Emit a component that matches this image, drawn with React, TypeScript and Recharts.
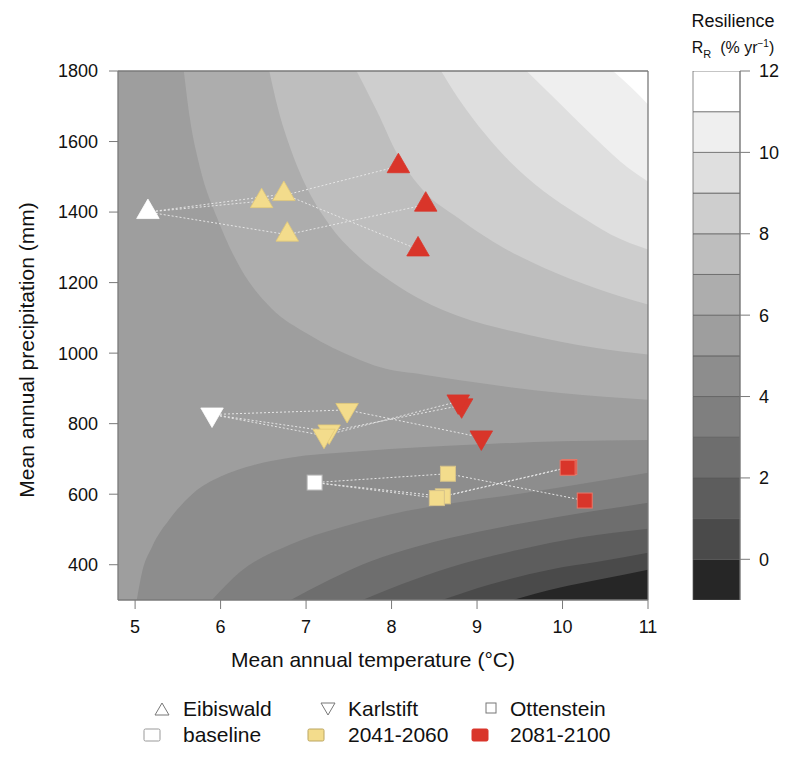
import React from 'react'
import {
  ComposedChart,
  Area,
  Line,
  Scatter,
  XAxis,
  YAxis,
  CartesianGrid,
  ReferenceLine,
  BarChart,
  Bar,
} from 'recharts'

type Pt = { T: number; P: number }

const xTicks = [5, 6, 7, 8, 9, 10, 11]
const yTicks = [400, 600, 800, 1000, 1200, 1400, 1600, 1800]

// resilience classes (lower bound of each 1 %/yr band) and their greys
const keyLevels = [-1, 0, 1, 2, 3, 4, 5, 6, 7, 8, 9, 10, 11]
const keyColors = [
  '#262626', '#4a4a4a', '#5d5d5d', '#6e6e6e', '#7f7f7f', '#8d8d8d', '#9e9e9e',
  '#adadad', '#bebebe', '#cecece', '#dfdfdf', '#efefef', '#ffffff',
]
const keyTicks = [0, 2, 4, 6, 8, 10, 12]

// contour lines: [temperature °C, precipitation mm]
const contour6 = [[5.57, 1800], [5.64, 1667], [5.76, 1525], [5.96, 1383], [6.23, 1242], [6.59, 1128], [7.03, 1053], [7.59, 985], [7.87, 960], [8.38, 939], [9.18, 910], [9.98, 887], [11, 868]]
const contour7 = [[6.57, 1800], [6.67, 1695], [6.83, 1572], [7.03, 1459], [7.27, 1365], [7.59, 1279], [7.99, 1204], [8.38, 1147], [8.78, 1105], [9.58, 1053], [10.38, 1015], [11, 996]]
const contour8 = [[7.59, 1800], [7.83, 1686], [8.07, 1563], [8.38, 1459], [8.78, 1383], [9.18, 1317], [9.78, 1242], [10.38, 1185], [11, 1138]]
const contour9 = [[8.58, 1800], [8.78, 1723], [9.1, 1620], [9.38, 1544], [9.78, 1459], [10.18, 1393], [10.57, 1336], [11, 1294]]
const contour10 = [[9.58, 1800], [9.98, 1705], [10.38, 1610], [10.77, 1525], [11, 1487]]
const contour11 = [[10.59, 1800], [10.81, 1752], [11, 1705]]

const contour5 = [[5.02, 300], [5.08, 377], [5.2, 452], [5.4, 528], [5.68, 603], [6.0, 650], [6.39, 683], [6.79, 703], [7.59, 721], [8.38, 734], [9.18, 743], [9.98, 750], [11, 754]]
const contour4 = [[5.9, 300], [6.23, 380], [6.81, 457], [7.39, 505], [7.97, 542], [8.67, 573], [9.5, 601], [10.32, 633], [11, 661]]
const contour3 = [[6.82, 300], [7.28, 358], [7.75, 409], [8.33, 454], [9.03, 494], [9.96, 536], [11, 576]]
const contour2 = [[7.66, 300], [8.1, 343], [8.68, 392], [9.5, 443], [10.2, 477], [11, 502]]
const contour1 = [[8.59, 300], [9.15, 344], [9.85, 386], [10.43, 409], [11, 434]]
const contour0 = [[9.42, 300], [9.96, 335], [10.43, 358], [11, 386]]

// sites: baseline, then the three climate models for 2041-2060 and 2081-2100
const eibiswaldBase = [[5.15, 1400]]
const eibiswaldMid = [[6.48, 1431], [6.74, 1451], [6.78, 1336]]
const eibiswaldLate = [[8.08, 1530], [8.31, 1294], [8.4, 1421]]

const karlstiftBase = [[5.9, 826]]
const karlstiftMid = [[7.48, 839], [7.27, 778], [7.21, 766]]
const karlstiftLate = [[9.05, 761], [8.82, 852], [8.78, 863]]

const ottensteinBase = [[7.1, 633]]
const ottensteinMid = [[8.66, 658], [8.6, 594], [8.53, 589]]
const ottensteinLate = [[10.26, 582], [10.08, 677], [10.06, 675]]

const sites = ['Eibiswald', 'Karlstift', 'Ottenstein']
const periods = ['baseline', '2041-2060', '2081-2100']

const toPts = (arr: number[][]): Pt[] => arr.map(([T, P]) => ({ T, P }))
const colorOf = (level: number) => keyColors[keyLevels.indexOf(level)]

const upper = [
  { level: 6, pts: contour6 },
  { level: 7, pts: contour7 },
  { level: 8, pts: contour8 },
  { level: 9, pts: contour9 },
  { level: 10, pts: contour10 },
  { level: 11, pts: contour11 },
]
const lower = [
  { level: 5, pts: contour5 },
  { level: 4, pts: contour4 },
  { level: 3, pts: contour3 },
  { level: 2, pts: contour2 },
  { level: 1, pts: contour1 },
  { level: 0, pts: contour0 },
]

const siteData = [
  { site: sites[0], base: eibiswaldBase, mid: eibiswaldMid, late: eibiswaldLate, mark: 'up' },
  { site: sites[1], base: karlstiftBase, mid: karlstiftMid, late: karlstiftLate, mark: 'down' },
  { site: sites[2], base: ottensteinBase, mid: ottensteinMid, late: ottensteinLate, mark: 'square' },
]

const periodStyle = [
  { fill: '#ffffff', stroke: '#ffffff', sqStroke: '#b5b5b5' },
  { fill: '#f3dc8c', stroke: '#e2c979', sqStroke: '#d6c38a' },
  { fill: '#d9352a', stroke: '#d9352a', sqStroke: '#e8786a' },
]

const FONT = '"Liberation Sans", Arial, Helvetica, sans-serif'
const AXIS_GREY = '#7a7a7a'

const makeShape = (mark: string, p: number) => (props: any) => {
  const { cx, cy } = props
  const st = periodStyle[p]
  if (cx == null || cy == null) return <g />
  if (mark === 'square') {
    const s = 15
    return <rect x={cx - s / 2} y={cy - s / 2} width={s} height={s} fill={st.fill} stroke={st.sqStroke} strokeWidth={1} />
  }
  const r = 13
  const dir = mark === 'up' ? 1 : -1
  const pts = [
    [cx, cy - dir * r],
    [cx + r * 0.866, cy + (dir * r) / 2],
    [cx - r * 0.866, cy + (dir * r) / 2],
  ]
  return <polygon points={pts.map((q) => q.join(',')).join(' ')} fill={st.fill} stroke={st.stroke} strokeWidth={0.8} />
}

const keyRow = [
  { name: 'key', ...Object.fromEntries(keyLevels.map((l) => [`b${l}`, l < 0 ? -1 : 1])) },
]

const LegendIcon = ({ kind }: { kind: string }) => {
  if (kind === 'up') return <svg width={16} height={14}><polygon points="8,1 15,13 1,13" fill="none" stroke="#777" strokeWidth={1} /></svg>
  if (kind === 'down') return <svg width={16} height={14}><polygon points="1,1 15,1 8,13" fill="none" stroke="#777" strokeWidth={1} /></svg>
  if (kind === 'small') return <svg width={12} height={12}><rect x={1} y={1} width={10} height={10} fill="none" stroke="#777" strokeWidth={1} /></svg>
  const st = kind === 'base' ? { f: '#fff', s: '#999' } : kind === 'mid' ? { f: '#f3dc8c', s: '#bba662' } : { f: '#d9352a', s: '#d9352a' }
  return <svg width={18} height={14}><rect x={1} y={1} width={16} height={12} rx={1.5} fill={st.f} stroke={st.s} strokeWidth={1} /></svg>
}

const legendItems = [
  { label: sites[0], kind: 'up', iconX: 154, textX: 183, y: 709 },
  { label: sites[1], kind: 'down', iconX: 320, textX: 348, y: 709 },
  { label: sites[2], kind: 'small', iconX: 485, textX: 510, y: 709 },
  { label: periods[0], kind: 'base', iconX: 143, textX: 183, y: 735 },
  { label: periods[1], kind: 'mid', iconX: 307, textX: 348, y: 735 },
  { label: periods[2], kind: 'late', iconX: 471, textX: 510, y: 735 },
]

export default function App() {
  return (
    <div style={{ position: 'absolute', left: 0, top: 0, width: 800, height: 760, background: '#fff', fontFamily: FONT, color: '#111' }}>
      <div style={{ position: 'absolute', left: 0, top: 0 }}>
        <ComposedChart width={660} height={700} margin={{ top: 71, right: 12, left: 0, bottom: 50 }}>
          <CartesianGrid horizontal={false} vertical={false} fill={colorOf(5)} fillOpacity={1} stroke="none" />
          <XAxis
            type="number"
            dataKey="T"
            domain={[4.8, 11]}
            ticks={xTicks}
            interval={0}
            allowDataOverflow
            height={50}
            axisLine={false}
            tickSize={9}
            tickMargin={11}
            tickLine={{ stroke: AXIS_GREY }}
            tick={{ fontSize: 18, fill: '#111' }}
          />
          <YAxis
            type="number"
            dataKey="P"
            domain={[300, 1800]}
            ticks={yTicks}
            interval={0}
            allowDataOverflow
            width={118}
            axisLine={false}
            tickSize={9}
            tickMargin={11}
            tickLine={{ stroke: AXIS_GREY }}
            tick={{ fontSize: 18, fill: '#111' }}
          />
          {upper.map((c) => (
            <Area
              key={`u${c.level}`}
              data={toPts(c.pts)}
              dataKey="P"
              type="monotone"
              baseValue={1800}
              stroke="none"
              fill={colorOf(c.level)}
              fillOpacity={1}
              dot={false}
              activeDot={false}
              isAnimationActive={false}
            />
          ))}
          {lower.map((c) => (
            <Area
              key={`l${c.level}`}
              data={toPts(c.pts)}
              dataKey="P"
              type="monotone"
              baseValue={300}
              stroke="none"
              fill={colorOf(c.level - 1)}
              fillOpacity={1}
              dot={false}
              activeDot={false}
              isAnimationActive={false}
            />
          ))}
          {siteData.flatMap((s) =>
            s.mid.map((m, i) => (
              <Line
                key={`${s.site}-path-${i}`}
                data={toPts([s.base[0], m, s.late[i]])}
                dataKey="P"
                type="linear"
                stroke="#e6e6e6"
                strokeWidth={1}
                strokeDasharray="2 2"
                dot={false}
                activeDot={false}
                isAnimationActive={false}
              />
            )),
          )}
          {siteData.flatMap((s) =>
            [s.base, s.mid, s.late].map((arr, p) => (
              <Scatter
                key={`${s.site}-${periods[p]}`}
                name={`${s.site} ${periods[p]}`}
                data={toPts(arr)}
                dataKey="P"
                shape={makeShape(s.mark, p)}
                isAnimationActive={false}
              />
            )),
          )}
          <ReferenceLine x={4.8} stroke={AXIS_GREY} strokeWidth={1.3} />
          <ReferenceLine x={11} stroke={AXIS_GREY} strokeWidth={1.3} />
          <ReferenceLine y={300} stroke={AXIS_GREY} strokeWidth={1.3} />
          <ReferenceLine y={1800} stroke={AXIS_GREY} strokeWidth={1.3} />
        </ComposedChart>
      </div>

      <div style={{ position: 'absolute', left: 173, top: 647, width: 400, textAlign: 'center', fontSize: 21, lineHeight: '26px' }}>
        Mean annual temperature (°C)
      </div>
      <div
        style={{
          position: 'absolute', left: 27 - 200, top: 350 - 13, width: 400, height: 26,
          textAlign: 'center', fontSize: 21, lineHeight: '26px', transform: 'rotate(-90deg)',
        }}
      >
        Mean annual precipitation (mm)
      </div>

      <div style={{ position: 'absolute', left: 670, top: 10, width: 126, textAlign: 'center', fontSize: 18, lineHeight: '22px' }}>
        Resilience
      </div>
      <div style={{ position: 'absolute', left: 670, top: 33, width: 126, textAlign: 'center', fontSize: 16, lineHeight: '22px' }}>
        R<sub style={{ fontSize: 11 }}>R</sub>&nbsp;&nbsp;(% yr<sup style={{ fontSize: 10 }}>−1</sup>)
      </div>

      <div style={{ position: 'absolute', left: 680, top: 0 }}>
        <BarChart width={130} height={640} data={keyRow} stackOffset="sign" barCategoryGap={0} margin={{ top: 71, right: 0, left: 13, bottom: 40 }}>
          <XAxis dataKey="name" hide />
          <YAxis
            orientation="right"
            type="number"
            domain={[-1, 12]}
            ticks={keyTicks}
            interval={0}
            allowDataOverflow
            width={70}
            axisLine={{ stroke: AXIS_GREY }}
            tickSize={10}
            tickMargin={9}
            tickLine={{ stroke: AXIS_GREY }}
            tick={{ fontSize: 18, fill: '#111' }}
          />
          {keyLevels.map((l, i) => (
            <Bar key={`b${l}`} dataKey={`b${l}`} stackId="key" fill={keyColors[i]} stroke="#5a5a5a" strokeWidth={0.7} isAnimationActive={false} />
          ))}
        </BarChart>
      </div>

      {legendItems.map((it) => (
        <React.Fragment key={it.label}>
          <div style={{ position: 'absolute', left: it.iconX, top: it.y - 7, lineHeight: 0 }}>
            <LegendIcon kind={it.kind} />
          </div>
          <div style={{ position: 'absolute', left: it.textX, top: it.y - 13, fontSize: 21, lineHeight: '26px' }}>{it.label}</div>
        </React.Fragment>
      ))}
    </div>
  )
}
